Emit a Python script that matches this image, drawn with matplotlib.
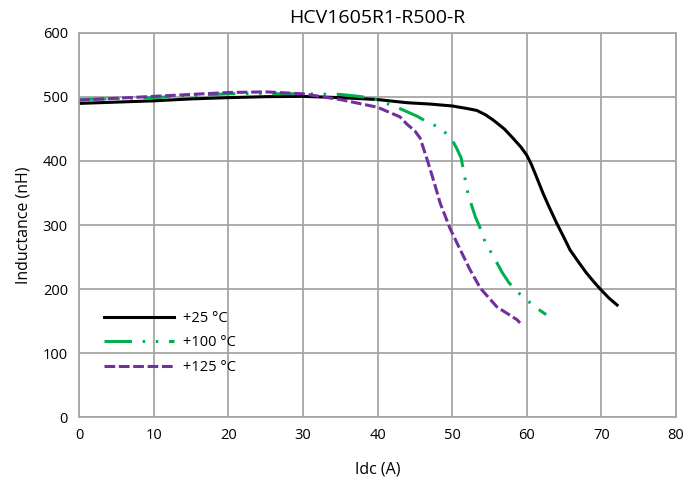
import matplotlib.pyplot as plt

plt.rcParams['font.family'] = ['Open Sans', 'DejaVu Sans']

# Inductance vs current
x_25 = [0, 5, 10, 15, 20, 25, 30, 35, 40, 44, 47, 50, 52, 53.3, 54.5, 55.5, 57, 58.2,
        59.2, 60, 60.6, 61.1, 62.2, 63, 64, 65, 65.8, 67, 68, 69, 70, 71, 72.1]
y_25 = [490, 492, 494, 497, 499, 500.5, 501, 499, 496, 491, 489, 486, 482, 479, 472, 464, 450, 435,
        422, 409, 395, 381, 349, 328, 303, 280, 261, 241, 225, 211, 198, 186, 175]

x_100 = [0, 10, 20, 30, 35, 37.5, 39.3, 42.4, 45.3, 46.8, 48.4, 49.9, 50.6, 51.2, 51.6,
         52.1, 52.6, 53.1, 53.8, 54.4, 55.9, 56.7, 57.6, 58.7, 61.1, 62.6]
y_100 = [496, 499, 505, 505, 504, 501, 498, 485, 470, 460, 452, 435, 420, 405, 380,
         350, 331, 313, 294, 274, 243, 226, 210, 196, 172, 160]

x_125 = [0, 10, 20, 25, 30, 35, 40, 43, 43.9, 45, 45.7, 46.6, 47.5, 48.4, 49.7, 51.1,
         52.4, 53.8, 56, 58.7, 59.1]
y_125 = [495, 501, 507, 508, 505, 496, 484, 469, 458, 447, 436, 404, 370, 334, 295, 261,
         230, 201, 172, 152, 147]

fig = plt.figure(figsize=(6.95, 4.83), dpi=100)
ax = fig.add_axes([0.1137, 0.1366, 0.859, 0.7951])

ax.plot(x_25, y_25, color='black', lw=2.2, label='+25 °C')
ax.plot(x_100, y_100, color='#00b050', lw=2.2, dashes=(9, 3.5, 0.8, 3.5, 0.8, 3.5), label='+100 °C')
ax.plot(x_125, y_125, color='#7030a0', lw=2.2, dashes=(3.5, 1.2), label='+125 °C')

ax.set_xlim(0, 80)
ax.set_ylim(0, 600)
ax.set_xticks(range(0, 81, 10))
ax.set_yticks(range(0, 601, 100))
ax.grid(True, color='#a6a6a6', lw=1.3)
ax.set_axisbelow(True)
for s in ax.spines.values():
    s.set_color('#a6a6a6')
    s.set_linewidth(1.3)
ax.tick_params(length=0, labelsize=10.5, pad=8)

ax.set_title('HCV1605R1-R500-R', fontsize=14, pad=7)
ax.set_xlabel('Idc (A)', fontsize=11.5, labelpad=13)
ax.set_ylabel('Inductance (nH)', fontsize=11.5, labelpad=8)

ax.legend(loc='lower left', bbox_to_anchor=(0.02, 0.075), frameon=False, fontsize=10.5,
          handlelength=4.8, labelspacing=0.66, handletextpad=0.6)

fig.savefig('out.png', dpi=100)
